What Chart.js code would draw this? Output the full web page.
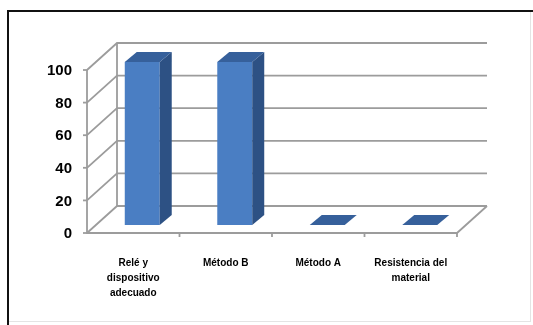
<!DOCTYPE html>
<html>
<head>
<meta charset="utf-8">
<script src="https://cdn.jsdelivr.net/npm/chart.js@4"></script>
<style>
  html, body { margin: 0; padding: 0; background: #fff; }
  #wrap { width: 533px; height: 325px; }
</style>
</head>
<body>
<div id="wrap"><canvas id="myChart" width="533" height="325"></canvas></div>
<script>
let categories = [
    ["Relé y", "dispositivo", "adecuado"],
    "Método B",
    "Método A",
    ["Resistencia del", "material"]
];
let values = [100, 100, 0, 0];
let yTicks = [0, 20, 40, 60, 80, 100];

// 3d offsets relative to the plotted bars
const front = { dx: -9, dy: 8 };
const back = { dx: 21, dy: -19 };
const depth = { dx: 12, dy: -10 };
const gridColor = '#9c9c9c';

const frame = {
    id: 'frame',
    beforeDraw: (chart) => {
        const ctx = chart.ctx;
        ctx.save();
        ctx.fillStyle = 'white';
        ctx.fillRect(0, 0, chart.width, chart.height);
        ctx.strokeStyle = '#e4e4e4';
        ctx.lineWidth = 1;
        ctx.strokeRect(8.5, 11.5, 522, 310);
        ctx.strokeStyle = '#111';
        ctx.lineWidth = 2;
        ctx.beginPath();
        ctx.moveTo(533, 11);
        ctx.lineTo(8, 11);
        ctx.lineTo(8, 325);
        ctx.stroke();
        ctx.restore();
    }
};

const walls = {
    id: 'walls',
    beforeDatasetsDraw: (chart) => {
        const ctx = chart.ctx;
        const xs = chart.scales.x;
        const ys = chart.scales.y;
        const l = chart.chartArea.left, r = chart.chartArea.right;
        const step = (r - l) / categories.length;
        ctx.save();
        ctx.strokeStyle = gridColor;
        ctx.lineWidth = 1.8;
        yTicks.forEach(v => {
            const py = ys.getPixelForValue(v);
            ctx.beginPath();
            ctx.moveTo(l + front.dx, py + front.dy);
            ctx.lineTo(l + back.dx, py + back.dy);
            ctx.lineTo(r + back.dx, py + back.dy);
            ctx.stroke();
            // tick mark on the front axis
            ctx.beginPath();
            ctx.moveTo(l + front.dx - 4, py + front.dy);
            ctx.lineTo(l + front.dx, py + front.dy);
            ctx.stroke();
        });
        const y0 = ys.getPixelForValue(0);
        const yTop = ys.getPixelForValue(100);
        ctx.beginPath();
        ctx.moveTo(l + front.dx, yTop + front.dy);
        ctx.lineTo(l + front.dx, y0 + front.dy);
        ctx.lineTo(r + front.dx, y0 + front.dy);
        ctx.lineTo(r + back.dx, y0 + back.dy);
        ctx.moveTo(l + back.dx, yTop + back.dy);
        ctx.lineTo(l + back.dx, y0 + back.dy);
        ctx.stroke();
        // category ticks along the front floor edge
        for (let i = 0; i < categories.length; i++) {
            const px = xs.getPixelForValue(i) + step / 2 + front.dx;
            ctx.beginPath();
            ctx.moveTo(px, y0 + front.dy);
            ctx.lineTo(px, y0 + front.dy + 4);
            ctx.stroke();
        }
        ctx.restore();
    },
    afterDatasetsDraw: (chart) => {
        const ctx = chart.ctx;
        const meta = chart.getDatasetMeta(0);
        ctx.save();
        meta.data.forEach(bar => {
            const p = bar.getProps(['x', 'y', 'base', 'width'], true);
            const left = p.x - p.width / 2, right = p.x + p.width / 2;
            const top = Math.min(p.y, p.base), bottom = Math.max(p.y, p.base);
            ctx.fillStyle = '#2d5184';
            ctx.beginPath();
            ctx.moveTo(right, top);
            ctx.lineTo(right + depth.dx, top + depth.dy);
            ctx.lineTo(right + depth.dx, bottom + depth.dy);
            ctx.lineTo(right, bottom);
            ctx.closePath();
            ctx.fill();
            ctx.fillStyle = '#36609b';
            ctx.beginPath();
            ctx.moveTo(left, top);
            ctx.lineTo(right, top);
            ctx.lineTo(right + depth.dx, top + depth.dy);
            ctx.lineTo(left + depth.dx, top + depth.dy);
            ctx.closePath();
            ctx.fill();
        });
        ctx.restore();
    }
};

const ctx = document.getElementById("myChart").getContext("2d");

const myChart = new Chart(ctx, {
    type: 'bar',
    plugins: [frame, walls],
    data: {
        labels: categories,
        datasets: [{
            data: values,
            backgroundColor: '#4a7ec3',
            borderWidth: 0,
            barPercentage: 0.378,
            categoryPercentage: 1
        }]
    },
    options: {
        responsive: false,
        animation: false,
        events: [],
        layout: { padding: { left: 0, right: 67, top: 62, bottom: 0 } },
        plugins: { legend: { display: false }, tooltip: { enabled: false } },
        scales: {
            x: {
                grid: { display: false, drawTicks: false },
                border: { display: false },
                ticks: {
                    color: '#000',
                    font: { family: 'Liberation Sans', size: 10, weight: 'bold', lineHeight: 1.5 },
                    padding: 31,
                    labelOffset: -9,
                    maxRotation: 0,
                    autoSkip: false
                },
                afterFit: (scale) => { scale.height = 100; }
            },
            y: {
                min: 0,
                max: 100,
                grid: { display: false, drawTicks: false },
                border: { display: false },
                ticks: {
                    stepSize: 20,
                    color: '#000',
                    font: { family: 'Liberation Sans', size: 15, weight: 'bold' },
                    padding: 24,
                    labelOffset: 9
                },
                afterFit: (scale) => { scale.width = 96; }
            }
        }
    }
});
</script>
</body>
</html>
